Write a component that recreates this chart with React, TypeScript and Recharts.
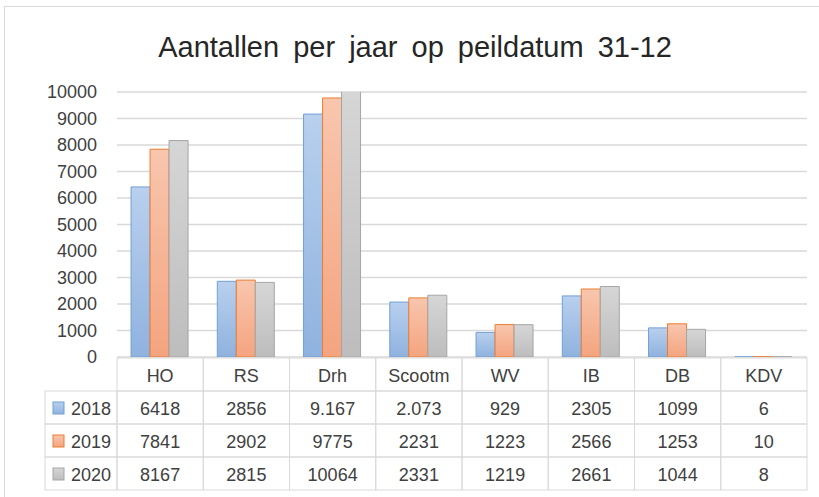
import { Bar, BarChart, CartesianGrid, XAxis, YAxis } from "recharts";

const categories = ["HO", "RS", "Drh", "Scootm", "WV", "IB", "DB", "KDV"];
const years = ["2018", "2019", "2020"];
const values2018 = [6418, 2856, 9167, 2073, 929, 2305, 1099, 6];
const values2019 = [7841, 2902, 9775, 2231, 1223, 2566, 1253, 10];
const values2020 = [8167, 2815, 10064, 2331, 1219, 2661, 1044, 8];
// zo staat het in de tabel (met punt in twee cellen)
const labels2018 = ["6418", "2856", "9.167", "2.073", "929", "2305", "1099", "6"];
const yTicks = [0, 1000, 2000, 3000, 4000, 5000, 6000, 7000, 8000, 9000, 10000];

const W = 819;
const H = 497;
const LEFT = 117;
const RIGHT = 12;
const COL = (W - LEFT - RIGHT) / categories.length;
const ROW = 33;
const LINE = "#d9d9d9";
const TEXT = "#404040";
const FONT = "'Liberation Sans', Arial, sans-serif";

const seriesStyle = [
  { id: "g2018", top: "#b9d0ee", bottom: "#8fb2de", stroke: "#6f9fd8" },
  { id: "g2019", top: "#f8c6ae", bottom: "#f4a47f", stroke: "#ed7d31" },
  { id: "g2020", top: "#d6d6d6", bottom: "#bdbdbd", stroke: "#a5a5a5" },
];

const data = categories.map((c, i) => ({
  cat: c,
  y2018: values2018[i],
  y2019: values2019[i],
  y2020: values2020[i],
}));

const tableRows = [labels2018, values2019.map(String), values2020.map(String)];

function TableTick(props: any) {
  const { x, y, index } = props;
  const x0 = x - COL / 2;
  const top = y + 1;
  const cells = [];
  cells.push(
    <g key="h">
      <rect x={x0} y={top} width={COL} height={ROW} fill="none" stroke={LINE} />
      <text x={x} y={top + ROW / 2 + 1} textAnchor="middle" dominantBaseline="central" fontSize={18} fill={TEXT} fontFamily={FONT}>
        {categories[index]}
      </text>
    </g>
  );
  tableRows.forEach((row, r) => {
    const ry = top + ROW * (r + 1);
    cells.push(
      <g key={r}>
        <rect x={x0} y={ry} width={COL} height={ROW} fill="none" stroke={LINE} />
        <text x={x} y={ry + ROW / 2 + 1} textAnchor="middle" dominantBaseline="central" fontSize={18} fill={TEXT} fontFamily={FONT}>
          {row[index]}
        </text>
      </g>
    );
  });
  if (index === 0) {
    const lx = x0 - 72;
    years.forEach((yr, r) => {
      const ry = top + ROW * (r + 1);
      const s = seriesStyle[r];
      cells.push(
        <g key={"l" + r}>
          <rect x={lx} y={ry} width={72} height={ROW} fill="none" stroke={LINE} />
          <rect x={lx + 8} y={ry + 11} width={11} height={12} fill={`url(#${s.id})`} stroke={s.stroke} />
          <text x={lx + 26} y={ry + ROW / 2 + 1} dominantBaseline="central" fontSize={18} fill={TEXT} fontFamily={FONT}>
            {yr}
          </text>
        </g>
      );
    });
  }
  return <g>{cells}</g>;
}

export default function App() {
  return (
    <div
      style={{
        position: "absolute",
        left: 0,
        top: 0,
        width: W,
        height: H,
        background: "#fff",
        overflow: "hidden",
        fontFamily: FONT,
      }}
    >
      <div
        style={{
          position: "absolute",
          left: 4,
          top: 6,
          width: W + 20,
          height: H + 20,
          border: `1px solid ${LINE}`,
        }}
      />
      <div
        style={{
          position: "absolute",
          left: 0,
          top: 29,
          width: 830,
          textAlign: "center",
          fontSize: 29,
          lineHeight: "36px",
          color: "#262626",
          wordSpacing: 6,
        }}
      >
        Aantallen per jaar op peildatum 31-12
      </div>
      <div style={{ position: "absolute", left: 0, top: 0 }}>
        <BarChart
          width={W}
          height={H}
          data={data}
          margin={{ top: 92, right: RIGHT, left: 0, bottom: 7 }}
          barCategoryGap="16.3%"
          barGap={0}
        >
          <defs>
            {seriesStyle.map((s) => (
              <linearGradient key={s.id} id={s.id} x1="0" y1="0" x2="0" y2="1">
                <stop offset="0%" stopColor={s.top} />
                <stop offset="100%" stopColor={s.bottom} />
              </linearGradient>
            ))}
          </defs>
          <CartesianGrid vertical={false} stroke={LINE} strokeWidth={1.5} />
          <YAxis
            width={LEFT}
            domain={[0, 10000]}
            ticks={yTicks}
            allowDataOverflow
            axisLine={false}
            tickLine={false}
            tickSize={0}
            tickMargin={20}
            tick={{ fill: TEXT, fontSize: 18, fontFamily: FONT }}
          />
          <XAxis
            dataKey="cat"
            height={133}
            axisLine={false}
            tickLine={false}
            tickSize={0}
            tickMargin={0}
            interval={0}
            tick={<TableTick />}
          />
          <Bar dataKey="y2018" fill="url(#g2018)" stroke={seriesStyle[0].stroke} isAnimationActive={false} />
          <Bar dataKey="y2019" fill="url(#g2019)" stroke={seriesStyle[1].stroke} isAnimationActive={false} />
          <Bar dataKey="y2020" fill="url(#g2020)" stroke={seriesStyle[2].stroke} isAnimationActive={false} />
        </BarChart>
      </div>
    </div>
  );
}
